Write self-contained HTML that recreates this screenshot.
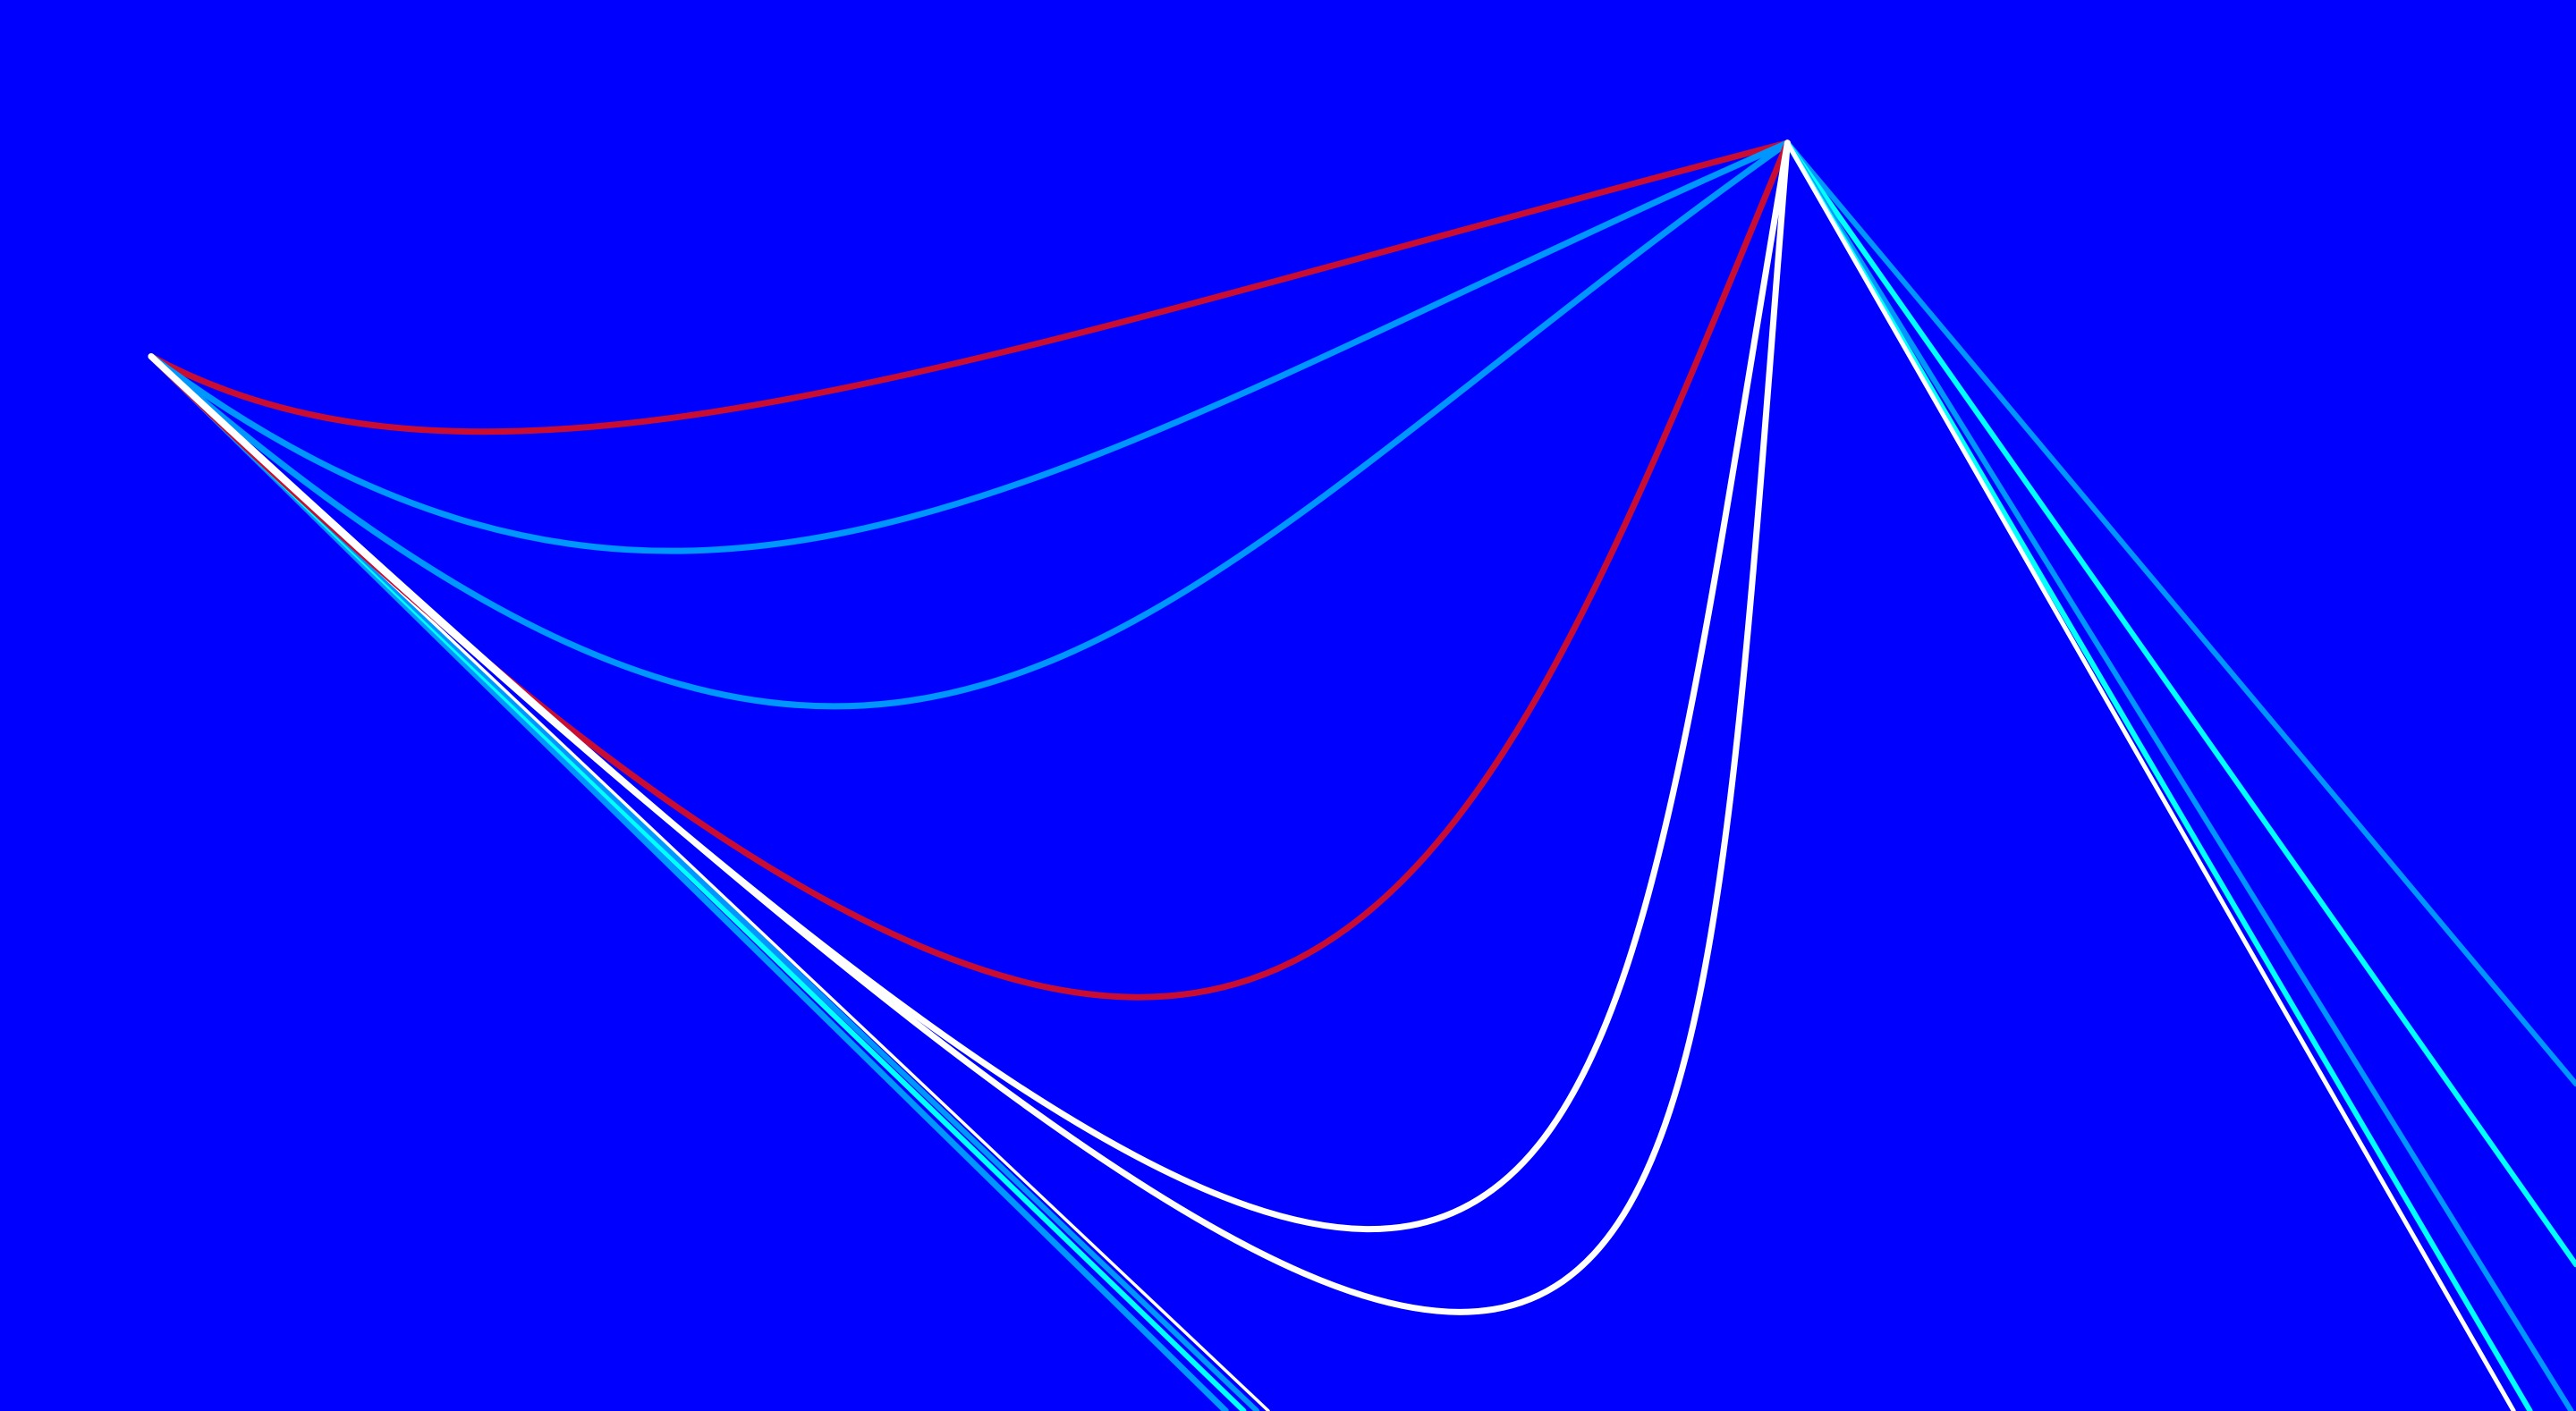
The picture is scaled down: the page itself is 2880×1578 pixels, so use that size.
<!DOCTYPE html>
<html><head><meta charset="utf-8"><style>
html,body{margin:0;padding:0;background:#0000ff;overflow:hidden}
svg{display:block}
</style></head><body>
<svg id="chart" width="2880" height="1578" viewBox="0 0 2880 1578" xmlns="http://www.w3.org/2000/svg">
<rect width="2880" height="1578" fill="#0000ff"/>
<g id="edges"></g>
</svg>
<script>
// node positions (reference units)
const nodeA = [92, 217];
const nodeB = [1088, 87];
// curved edges A -> B: control points
const curveNames = ['red-curve-1','blue-curve-1','blue-curve-2','red-curve-2','white-curve-1','white-curve-2'];
const curveColors = ['#c80c32','#0096ff','#0096ff','#c80c32','#ffffff','#ffffff'];
const curveC1 = [[300,330],[420,460],[560,625],[780,890],[990,1060],[1055,1108]];
const curveC2 = [[600,214],[638,285],[688,371],[880,590],[965,812],[1022,905]];
// straight edges from A (end points)
const lineAEnd = [[746,859],[757,859],[765,859],[772,859]];
const lineAColors = ['#0096ff','#00ffff','#0096ff','#ffffff'];
const lineAWidths = [7,6,6,3.5];
// straight edges from B (end points)
const lineBEnd = [[1568,660],[1568,770],[1565,859],[1540,859],[1530,859]];
const lineBColors = ['#0096ff','#00ffff','#0096ff','#00ffff','#ffffff'];
const lineBWidths = [6,6,6,6,5];

const S = 2880/1568;
const sx = v => v*S, sy = v => v*S;
const g = document.getElementById('edges');
const NS = 'http://www.w3.org/2000/svg';
function mk(d, color, w) {
  const p = document.createElementNS(NS, 'path');
  p.setAttribute('d', d);
  p.setAttribute('fill', 'none');
  p.setAttribute('stroke', color);
  p.setAttribute('stroke-width', w);
  p.setAttribute('stroke-linecap', 'round');
  g.appendChild(p);
  return p;
}
lineAEnd.forEach((e, i) => {
  const p = mk(`M${sx(nodeA[0])},${sy(nodeA[1])} L${sx(e[0])},${sy(e[1])}`, lineAColors[i], lineAWidths[i]);
  
  
});
lineBEnd.forEach((e, i) => {
  const p = mk(`M${sx(nodeB[0])},${sy(nodeB[1])} L${sx(e[0])},${sy(e[1])}`, lineBColors[i], lineBWidths[i]);
  
  
});
curveC1.forEach((c1, i) => {
  const c2 = curveC2[i];
  const p = mk(`M${sx(nodeA[0])},${sy(nodeA[1])} C${sx(c1[0])},${sy(c1[1])} ${sx(c2[0])},${sy(c2[1])} ${sx(nodeB[0])},${sy(nodeB[1])}`, curveColors[i], 7);
  
  
});
</script>
</body></html>
